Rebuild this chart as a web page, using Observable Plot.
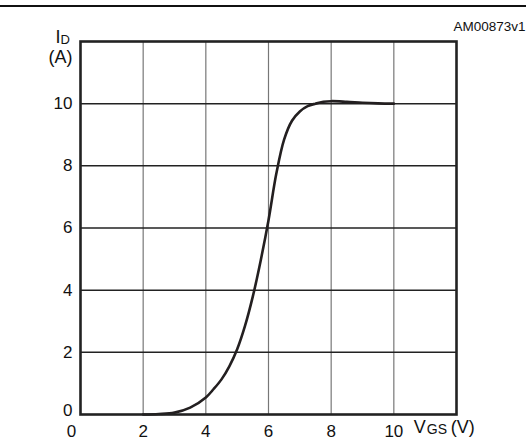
<!DOCTYPE html>
<html>
<head>
<meta charset="utf-8">
<script src="https://cdn.jsdelivr.net/npm/d3@7"></script>
<script src="https://cdn.jsdelivr.net/npm/@observablehq/plot@0.6"></script>
<style>
  body { margin: 0; background: #fff; }
  #wrap { position: relative; width: 526px; height: 443px; }
  #topline { position: absolute; left: 0; top: 5px; width: 526px; height: 2px; background: #111; }
  svg { font-family: "Liberation Sans", Arial, Helvetica, sans-serif; }
</style>
</head>
<body>
<div id="wrap"><div id="topline"></div></div>
<script>
const vgs = [2, 2.5, 3, 3.5, 4, 4.25, 4.5, 4.75, 5, 5.25, 5.5, 5.75, 6, 6.25, 6.5, 6.75, 7, 7.25, 7.5, 7.75, 8, 8.5, 9, 9.5, 10];
const id  = [0, 0.015, 0.06, 0.22, 0.55, 0.82, 1.13, 1.55, 2.1, 2.85, 3.8, 4.95, 6.25, 7.75, 8.85, 9.45, 9.75, 9.92, 10.0, 10.06, 10.08, 10.06, 10.03, 10.01, 10.0];
const xTicks = [0, 2, 4, 6, 8, 10];
const yTicks = [0, 2, 4, 6, 8, 10];
const xGrid = [2, 4, 6, 8, 10];
const yGrid = [2, 4, 6, 8, 10];
const code = "AM00873v1";

const data = vgs.map((v, i) => ({vgs: v, id: id[i]}));
const fs = 17;

const chart = Plot.plot({
  width: 526,
  height: 443,
  marginLeft: 80,
  marginRight: 70,
  marginTop: 41,
  marginBottom: 29,
  x: {domain: [0, 12]},
  y: {domain: [0, 12]},
  style: {fontFamily: '"Liberation Sans", Arial, sans-serif', fontSize: fs + "px", color: "#111", background: "#fff"},
  marks: [
    Plot.ruleX(xGrid, {stroke: "#777", strokeWidth: 1.2}),
    Plot.ruleY(yGrid, {stroke: "#222", strokeWidth: 1.5}),
    Plot.line(data, {x: "vgs", y: "id", stroke: "#231f20", strokeWidth: 2.6, curve: "catmull-rom"}),
    Plot.frame({stroke: "#222", strokeWidth: 2.6}),
    Plot.axisY(yTicks.filter(d => d > 0), {tickSize: 0, tickPadding: 8, fontSize: fs, label: null}),
    Plot.axisY([0], {tickSize: 0, tickPadding: 8, fontSize: fs, dy: -4, label: null}),
    Plot.axisX(xTicks.filter(d => d > 0), {tickSize: 0, tickPadding: 10, fontSize: fs, label: null}),
    Plot.axisX([0], {tickSize: 0, tickPadding: 10, fontSize: fs, dx: -9, label: null}),
    // y axis label I_D (A)
    Plot.text(["I"], {frameAnchor: "top-left", textAnchor: "start", lineAnchor: "middle", dx: -25, dy: -4, fontSize: 18}),
    Plot.text(["D"], {frameAnchor: "top-left", textAnchor: "start", lineAnchor: "middle", dx: -20, dy: -2, fontSize: 13}),
    Plot.text(["(A)"], {frameAnchor: "top-left", textAnchor: "middle", lineAnchor: "middle", dx: -20, dy: 16, fontSize: 18}),
    // x axis label V_GS(V)
    Plot.text([10], {x: d => d, frameAnchor: "bottom", textAnchor: "start", lineAnchor: "middle", text: d => "V", dx: 20, dy: 13, fontSize: 18}),
    Plot.text([10], {x: d => d, frameAnchor: "bottom", textAnchor: "start", lineAnchor: "middle", text: d => "GS", dx: 33, dy: 15.5, fontSize: 14}),
    Plot.text([10], {x: d => d, frameAnchor: "bottom", textAnchor: "start", lineAnchor: "middle", text: d => "(V)", dx: 57, dy: 13, fontSize: 18}),
    // figure code
    Plot.text([code], {frameAnchor: "top-right", textAnchor: "end", lineAnchor: "middle", dx: 69, dy: -15, fontSize: 13.5})
  ]
});
document.getElementById("wrap").prepend(chart);
</script>
</body>
</html>
